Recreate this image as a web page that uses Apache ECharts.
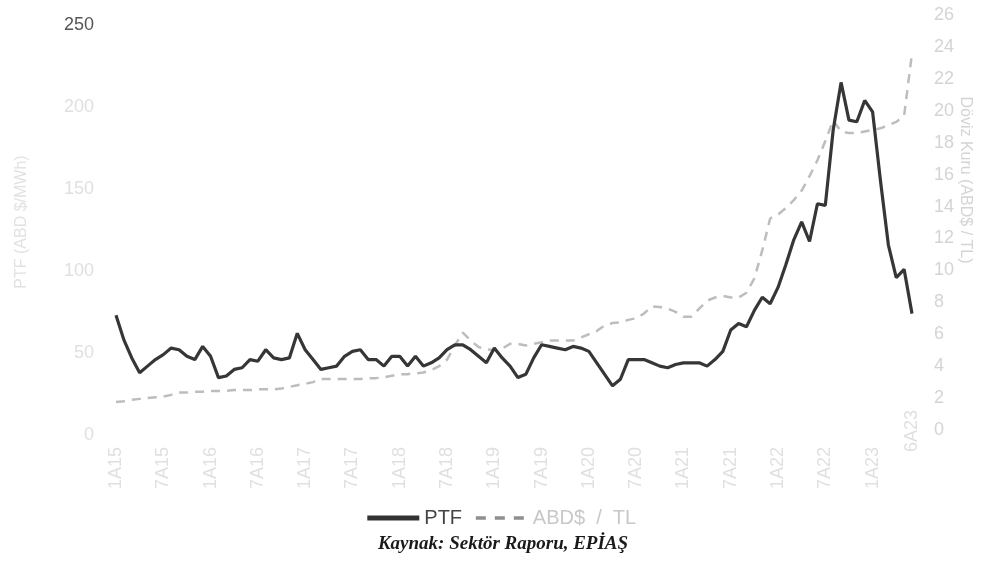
<!DOCTYPE html>
<html><head><meta charset="utf-8">
<script src="https://cdn.jsdelivr.net/npm/echarts@6/dist/echarts.min.js"></script>
<style>html,body{margin:0;padding:0;background:#fff}#c{width:1001px;height:561px}</style>
</head><body><div id="c"></div>
<script>
const categories = [
'1A15','2A15','3A15','4A15','5A15','6A15','7A15','8A15','9A15','10A15','11A15','12A15',
'1A16','2A16','3A16','4A16','5A16','6A16','7A16','8A16','9A16','10A16','11A16','12A16',
'1A17','2A17','3A17','4A17','5A17','6A17','7A17','8A17','9A17','10A17','11A17','12A17',
'1A18','2A18','3A18','4A18','5A18','6A18','7A18','8A18','9A18','10A18','11A18','12A18',
'1A19','2A19','3A19','4A19','5A19','6A19','7A19','8A19','9A19','10A19','11A19','12A19',
'1A20','2A20','3A20','4A20','5A20','6A20','7A20','8A20','9A20','10A20','11A20','12A20',
'1A21','2A21','3A21','4A21','5A21','6A21','7A21','8A21','9A21','10A21','11A21','12A21',
'1A22','2A22','3A22','4A22','5A22','6A22','7A22','8A22','9A22','10A22','11A22','12A22',
'1A23','2A23','3A23','4A23','5A23','6A23'];
const tickLabels = ['1A15','7A15','1A16','7A16','1A17','7A17','1A18','7A18','1A19','7A19','1A20','7A20','1A21','7A21','1A22','7A22','1A23','6A23'];
const ptf = [
73,58,47,38,42,46,49,53,52,48,46,54,
48,35,36,40,41,46,45,52,47,46,47,62,
52,46,40,41,42,48,51,52,46,46,42,48,
48,42,48,42,44,47,52,55,55,52,48,44,
53,47,42,35,37,47,55,54,53,52,54,53,
51,44,37,30,34,46,46,46,44,42,41,43,
44,44,44,42,46,51,64,68,66,76,84,80,
90,104,119,130,118,141,140,186,215,192,191,204,
197,155,116,96,101,74];
const usdTl = [
1.75,1.8,1.9,1.95,2.0,2.05,2.1,2.2,2.35,2.35,2.4,2.4,
2.45,2.45,2.45,2.5,2.5,2.5,2.55,2.55,2.55,2.6,2.7,2.8,
2.9,3.0,3.2,3.2,3.2,3.2,3.2,3.2,3.25,3.25,3.3,3.4,
3.5,3.5,3.55,3.6,3.75,4.0,4.4,5.3,6.1,5.6,5.2,5.05,
5.0,5.1,5.4,5.4,5.3,5.4,5.5,5.6,5.6,5.6,5.6,5.8,
6.0,6.2,6.55,6.7,6.75,6.9,7.0,7.3,7.75,7.7,7.6,7.4,
7.1,7.1,7.6,8.1,8.3,8.4,8.3,8.3,8.6,9.5,11.25,13.25,
13.5,13.9,14.4,15.0,15.9,16.9,18.1,19.4,18.7,18.6,18.6,18.7,
18.8,18.9,19.1,19.3,19.7,23.6];
const leftTicks = [0,50,100,150,200,250];
const rightTicks = [0,2,4,6,8,10,12,14,16,18,20,22,24,26];

const chart = echarts.init(document.getElementById('c'), null, {renderer:'canvas'});
const lastIdx = categories.length - 1;
const faint = '#e0e0e0';
chart.setOption({
  animation: false,
  backgroundColor: '#fff',
  grid: [
    {left:116, right:89, top:25, bottom:126},
    {left:116, right:89, top:15, bottom:131}
  ],
  xAxis: [
    {type:'category', gridIndex:0, data:categories, boundaryGap:false,
     axisLine:{show:false}, axisTick:{show:false},
     axisLabel:{
       fontSize:18, fontFamily:'Liberation Sans, Arial', color:faint, rotate:90, margin:-25,
       interval:function(i){ return tickLabels.indexOf(categories[i]) >= 0; },
       formatter:function(v){ return v === categories[lastIdx] ? '{b|' + v + '}' : '{a|' + v + '}'; },
       rich:{a:{fontSize:18, color:faint, padding:[0,37,0,0]}, b:{fontSize:18, color:faint}}
     }},
    {type:'category', gridIndex:1, data:categories, boundaryGap:false, show:false}
  ],
  yAxis: [
    {type:'value', gridIndex:0, min:leftTicks[0], max:leftTicks[leftTicks.length-1], interval:50,
     splitLine:{show:false}, axisLine:{show:false}, axisTick:{show:false},
     axisLabel:{margin:22, fontSize:18, fontFamily:'Liberation Sans, Arial',
       formatter:function(v){ return v === 250 ? '{d|' + v + '}' : '{l|' + v + '}'; },
       rich:{d:{color:'#555', fontSize:18}, l:{color:faint, fontSize:18}}}},
    {type:'value', gridIndex:1, position:'right', min:rightTicks[0], max:rightTicks[rightTicks.length-1], interval:2,
     splitLine:{show:false}, axisLine:{show:false}, axisTick:{show:false},
     axisLabel:{margin:22, fontSize:18, fontFamily:'Liberation Sans, Arial', color:'#d4d4d4'}}
  ],
  legend: {
    left: 'center', top: 503, itemWidth: 52, itemHeight: 14, itemGap: 12,
    itemStyle:{opacity:0},
    textStyle:{fontSize:20, fontFamily:'Liberation Sans, Arial'},
    formatter:function(n){ return n === 'ABD$ / TL' ? 'ABD$  /  TL' : n; },
    data: [
      {name:'PTF', textStyle:{color:'#444'}, lineStyle:{width:5, color:'#333'}},
      {name:'ABD$ / TL', textStyle:{color:'#c8c8c8'}, lineStyle:{width:3.5, color:'#8f8f8f', type:[10,9]}}
    ]
  },
  series: [
    {name:'ABD$ / TL', type:'line', xAxisIndex:1, yAxisIndex:1, data:usdTl, symbol:'none',
     lineStyle:{color:'#bdbdbd', width:2.5, type:[9,7]}, itemStyle:{color:'#bdbdbd'}, z:2},
    {name:'PTF', type:'line', xAxisIndex:0, yAxisIndex:0, data:ptf, symbol:'none',
     lineStyle:{color:'#363636', width:3.2}, itemStyle:{color:'#363636'}, z:3}
  ],
  graphic: [
    {type:'text', x:22, y:222, rotation:Math.PI/2,
     style:{text:'PTF (ABD $/MWh)', fontSize:16, fontFamily:'Liberation Sans, Arial', fill:'#e2e2e2', align:'center', verticalAlign:'middle'}},
    {type:'text', x:965, y:180, rotation:-Math.PI/2,
     style:{text:'Döviz Kuru (ABD$ / TL)', fontSize:16, fontFamily:'Liberation Sans, Arial', fill:'#d4d4d4', align:'center', verticalAlign:'middle'}},
    {type:'text', x:503, y:544,
     style:{text:'Kaynak: Sektör Raporu, EPİAŞ', fontSize:19, fontStyle:'italic', fontWeight:'bold', fontFamily:'Liberation Serif, Times New Roman', fill:'#1a1a1a', align:'center', verticalAlign:'middle'}}
  ]
});
</script></body></html>
